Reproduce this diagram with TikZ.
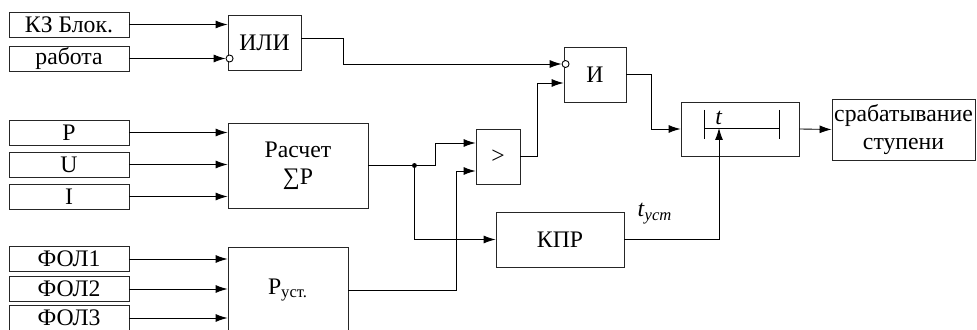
\documentclass[tikz,border=0pt]{standalone}
\usepackage{fontspec}
\setmainfont{Liberation Serif}
\usetikzlibrary{arrows.meta,calc}

\begin{document}
\begin{tikzpicture}[
  x=0.2mm, y=-0.2mm,
  font=\fontsize{13.5}{15.5}\selectfont,
  line width=0.5pt,
  inbox/.style={draw=black!85, minimum width=24mm, minimum height=5mm, inner sep=0pt},
  blk/.style={draw=black!85, inner sep=1pt, align=center},
  arr/.style={-{Latex[length=2.4mm, width=1.6mm]}},
  wire/.style={line width=0.5pt},
  inv/.style={draw, fill=white, circle, inner sep=0pt, minimum size=1.4mm},
  lab/.style={inner sep=1pt}
]
\useasboundingbox (0,0) rectangle (977,330);
\clip (0,0) rectangle (977,330);
% ----- inputs (left column) -----
\node[inbox] (kz)  at (69,24.5)  {КЗ Блок.};
\node[inbox] (rab) at (69,58.5)  {работа};
\node[inbox] (p)   at (69,132.5) {P};
\node[inbox] (u)   at (69,164.5) {U};
\node[inbox] (i)   at (69,196.5) {I};
\node[inbox] (fol1) at (69,259) {ФОЛ1};
\node[inbox] (fol2) at (69,289) {ФОЛ2};
\node[inbox] (fol3) at (69,318) {ФОЛ3};
% ----- logic and calc blocks -----
\node[blk, minimum width=14.6mm, minimum height=11mm] (ili)  at (264.5,42.5) {ИЛИ};
\node[blk, minimum width=28mm, minimum height=17mm]   (calc) at (298,165.5)  {Расчет\\∑P};
\node[blk, minimum width=24mm, minimum height=17.2mm] (pust) at (288,290)    {P\textsubscript{уст.}};
\node[blk, minimum width=8.8mm, minimum height=11mm]  (gt)   at (498,156.5)  {>};
\node[blk, minimum width=12.4mm, minimum height=11mm] (and)  at (595,74.5)   {И};
\node[blk, minimum width=25.6mm, minimum height=11mm] (kpr)  at (560,239.5)  {КПР};
\node[blk, minimum width=23.6mm, minimum height=10.8mm] (timer) at (740,129) {};
\node[blk, minimum width=28.6mm, minimum height=12.2mm] (out) at (903.5,129.5) {срабатывание\\ступени};
% ----- inverted inputs -----
\node[inv] (nili) at ($(rab.east -| ili.west)+(2,0)$) {};
\node[inv] (nand) at ($(and.west)+(2,-10.5)$) {};
% ----- timer symbol -----
\coordinate (tl) at ($(timer.center)+(-36,-1)$);
\coordinate (tr) at ($(timer.center)+(39,-1)$);
\coordinate (tin) at ($(timer.center)+(-21,-1)$);
\draw[wire] (tl) -- (tr);
\draw[wire] ($(tl)+(0,-18)$) -- ($(tl)+(0,11)$);
\draw[wire] ($(tr)+(0,-18)$) -- ($(tr)+(0,11)$);
\node[lab, anchor=south] (tt) at ($(tin)+(0,-1)$) {\textit{t}};
% ----- input arrows -----
\draw[arr] (kz.east) -- (kz.east -| ili.west);
\draw[arr] (rab.east) -- (nili.west);
\foreach \s in {p, u, i}{\draw[arr] (\s.east) -- (\s.east -| calc.west);}
\foreach \s in {fol1, fol2, fol3}{\draw[arr] (\s.east) -- (\s.east -| pust.west);}
% ----- connections -----
\draw[arr] ([yshift=0.9mm]ili.east) -- ++(42,0) |- (nand.west);
\coordinate (j) at ($(calc.east)+(46,0)$);
\draw[arr] (calc.east) -- (j) -- ++(21,0) |- ($(gt.west)+(0,-13.5)$);
\fill (j) circle (1.4pt);
\draw[arr] (j) |- (kpr.west);
\draw[arr] (pust.east) -- ++(108,0) |- ($(gt.west)+(0,14.5)$);
\draw[arr] (gt.east) -- ++(17,0) |- ($(and.west)+(0,8.5)$);
\draw[arr] (and.east) -- ++(25,0) |- (timer.west);
\draw[arr] (kpr.east) -| (tin);
\draw[arr] (timer.east) -- (out.west);
\node[lab] (tust) at (655,214) {\textit{t}\textsubscript{\textit{уст}}};
\end{tikzpicture}
\end{document}
